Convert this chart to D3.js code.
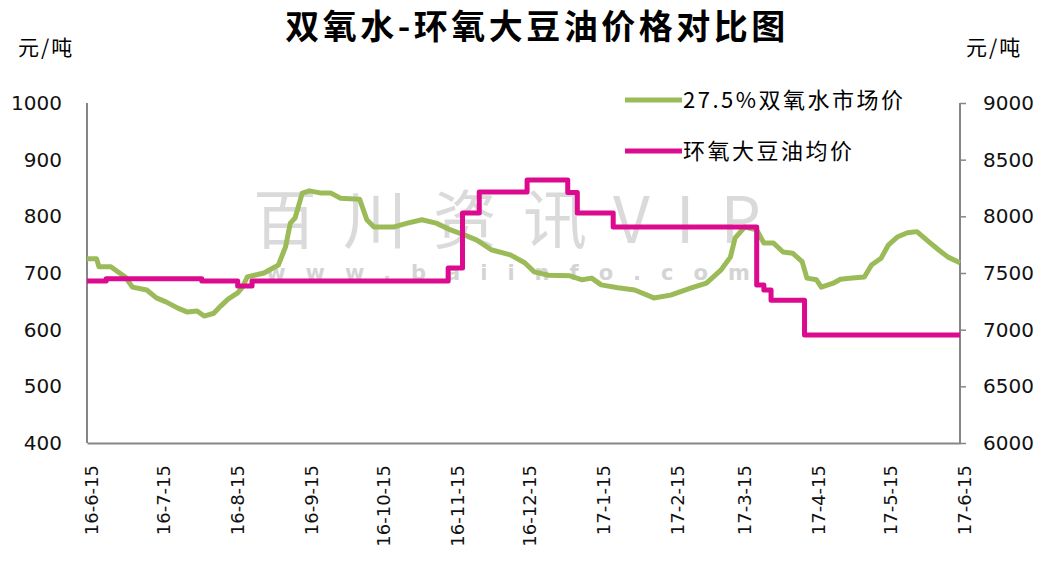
<!DOCTYPE html>
<html>
<head>
<meta charset="utf-8">
<script src="https://cdn.jsdelivr.net/npm/d3@7"></script>
<style>
  body { margin: 0; background: #fff; }
  svg { display: block; font-family: "DejaVu Sans", Verdana, sans-serif; }
  .cjk { font-family: "Noto Sans CJK SC", sans-serif; }
</style>
</head>
<body>
<svg id="chart" width="1043" height="561"></svg>
<script>
// 27.5% hydrogen peroxide market price (left axis, yuan/ton)
var h2o2Dates = ["2016-06-15","2016-06-19","2016-06-20","2016-06-25","2016-06-27","2016-07-01","2016-07-04","2016-07-10",
  "2016-07-14","2016-07-18","2016-07-23","2016-07-27","2016-07-31","2016-08-03","2016-08-07","2016-08-10","2016-08-13",
  "2016-08-17","2016-08-19","2016-08-21","2016-08-24","2016-08-28","2016-08-31","2016-09-03","2016-09-06","2016-09-08",
  "2016-09-10","2016-09-13","2016-09-16","2016-09-21","2016-09-25","2016-09-29","2016-10-07","2016-10-10","2016-10-13",
  "2016-10-21","2016-10-27","2016-11-02","2016-11-08","2016-11-14","2016-11-20","2016-11-25","2016-12-01","2016-12-09",
  "2016-12-15","2016-12-19","2016-12-25","2017-01-03","2017-01-08","2017-01-12","2017-01-16","2017-01-23","2017-01-30",
  "2017-02-07","2017-02-14","2017-02-23","2017-03-01","2017-03-07","2017-03-11","2017-03-13","2017-03-17","2017-03-22",
  "2017-03-25","2017-03-29","2017-04-02","2017-04-06","2017-04-10","2017-04-12","2017-04-16","2017-04-18","2017-04-23",
  "2017-04-26","2017-05-01","2017-05-06","2017-05-09","2017-05-13","2017-05-16","2017-05-20","2017-05-24","2017-05-28",
  "2017-06-02","2017-06-06","2017-06-10","2017-06-15"];
var h2o2Values = [725,725,711,711,705,693,675,670,
  656,649,638,631,633,624,629,642,654,
  665,675,693,696,700,707,714,746,788,
  797,841,845,841,841,832,830,794,781,
  781,788,794,788,776,767,758,741,732,
  718,702,696,695,688,691,679,674,670,
  656,661,674,682,705,728,762,781,776,
  753,753,737,735,720,691,688,675,682,
  689,691,693,714,726,749,764,771,773,
  755,741,728,718];

// epoxidized soybean oil average price (right axis, yuan/ton), step values
var esoDates = ["2016-06-15","2016-06-23","2016-08-02","2016-08-17","2016-08-23","2016-11-13","2016-11-19","2016-11-26",
  "2016-12-16","2017-01-02","2017-01-06","2017-01-21","2017-03-22","2017-03-25","2017-03-28","2017-04-11","2017-06-15"];
var esoValues = [7430,7450,7430,7385,7430,7545,8030,8215,
  8320,8210,8030,7905,7395,7350,7260,6953,6953];

var leftTicks = [400,500,600,700,800,900,1000];
var rightTicks = [6000,6500,7000,7500,8000,8500,9000];
var seriesNames = ["27.5%双氧水市场价", "环氧大豆油均价"];
var colors = ["#9bbb59", "#dc0a8e"];

var parse = d3.timeParse("%Y-%m-%d");
var fmt = d3.timeFormat("%y-%-m-%-d");
var svg = d3.select("#chart");
var plotLeft = 87, plotRight = 960, plotTop = 103, plotBottom = 443;

var x = d3.scaleTime().domain([parse("2016-06-15"), parse("2017-06-15")]).range([plotLeft, plotRight]);
var yL = d3.scaleLinear().domain([400, 1000]).range([plotBottom, plotTop]);
var yR = d3.scaleLinear().domain([6000, 9000]).range([plotBottom, plotTop]);

// title
svg.append("text").attr("class", "cjk").attr("x", 537).attr("y", 39)
  .attr("text-anchor", "middle").attr("font-size", 34).attr("font-weight", "bold")
  .attr("letter-spacing", 3.5).attr("fill", "#000").text("双氧水-环氧大豆油价格对比图");

// units
svg.append("text").attr("class", "cjk").attr("x", 18).attr("y", 55)
  .attr("font-size", 21).attr("letter-spacing", 2).text("元/吨");
svg.append("text").attr("class", "cjk").attr("x", 966).attr("y", 55)
  .attr("font-size", 21).attr("letter-spacing", 2).text("元/吨");

// watermark
svg.append("text").attr("class", "cjk").attr("x", 520).attr("y", 243)
  .attr("text-anchor", "middle").attr("font-size", 64).attr("letter-spacing", 26)
  .attr("fill", "#dadada").text("百川资讯VIP");
svg.append("text").attr("x", 518).attr("y", 280)
  .attr("text-anchor", "middle").attr("font-size", 21).attr("font-weight", "bold")
  .attr("letter-spacing", 20).attr("fill", "#d4d4d4").text("www.baiinfo.com");

// axes
var axisColor = "#868686";
var gL = svg.append("g").attr("transform", "translate(" + plotLeft + ",0)")
  .call(d3.axisLeft(yL).tickValues(leftTicks).tickFormat(d3.format("d")).tickSize(0).tickPadding(25));
var gR = svg.append("g").attr("transform", "translate(" + plotRight + ",0)")
  .call(d3.axisRight(yR).tickValues(rightTicks).tickFormat(d3.format("d")).tickSize(6).tickPadding(17));
var xTicks = d3.range(0, 13).map(function(i) { return d3.timeMonth.offset(parse("2016-06-15"), i); });
var gX = svg.append("g").attr("transform", "translate(0," + plotBottom + ")")
  .call(d3.axisBottom(x).tickValues(xTicks).tickFormat(fmt).tickSize(0).tickPadding(0));

[gL, gR, gX].forEach(function(g) {
  g.select(".domain").attr("stroke", axisColor).attr("stroke-width", 2);
  g.selectAll(".tick line").attr("stroke", axisColor).attr("stroke-width", 1.5);
  g.selectAll("text").attr("font-size", 20).attr("fill", "#111")
    .attr("font-family", "DejaVu Sans, Verdana, sans-serif");
});
gX.selectAll("text").attr("font-size", 18)
  .attr("transform", "rotate(-90)").attr("text-anchor", "end")
  .attr("x", -22).attr("y", 0).attr("dy", "0.6em");
gR.select(".domain").attr("d", "M0," + plotBottom + "V" + plotTop);
gL.select(".domain").attr("d", "M0," + plotBottom + "V" + plotTop);

// lines
var h2o2 = h2o2Dates.map(function(d, i) { return [parse(d), h2o2Values[i]]; });
var eso = esoDates.map(function(d, i) { return [parse(d), esoValues[i]]; });

svg.append("path").datum(h2o2)
  .attr("fill", "none").attr("stroke", colors[0]).attr("stroke-width", 5)
  .attr("stroke-linejoin", "round")
  .attr("d", d3.line().x(function(d) { return x(d[0]); }).y(function(d) { return yL(d[1]); }));

svg.append("path").datum(eso)
  .attr("fill", "none").attr("stroke", colors[1]).attr("stroke-width", 5)
  .attr("stroke-linejoin", "round")
  .attr("d", d3.line().curve(d3.curveStepAfter)
    .x(function(d) { return x(d[0]); }).y(function(d) { return yR(d[1]); }));

// legend
var legend = svg.append("g").attr("transform", "translate(625,100)");
seriesNames.forEach(function(name, i) {
  var row = legend.append("g").attr("transform", "translate(0," + (i * 51) + ")");
  row.append("line").attr("x1", 0).attr("x2", 57).attr("stroke", colors[i]).attr("stroke-width", 5);
  row.append("text").attr("class", "cjk").attr("x", 58).attr("dy", "0.36em")
    .attr("font-size", 22).attr("letter-spacing", 2.5).text(name);
});
</script>
</body>
</html>
